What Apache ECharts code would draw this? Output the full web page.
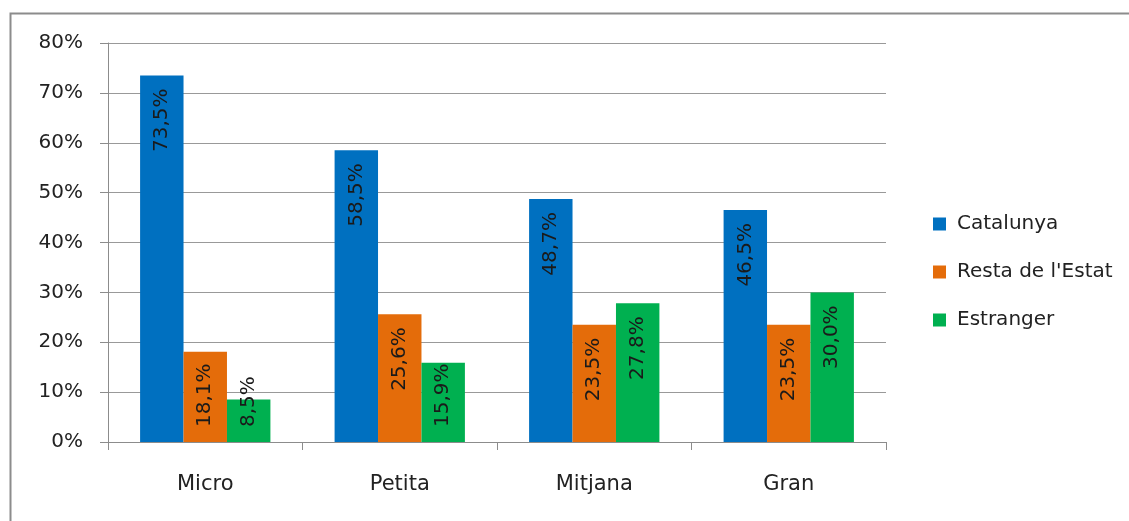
<!DOCTYPE html>
<html><head><meta charset="utf-8">
<script src="https://cdn.jsdelivr.net/npm/echarts@6/dist/echarts.min.js"></script>
<style>html,body{margin:0;padding:0;background:#fff}#c{width:1129px;height:521px}</style>
</head><body><div id="c"></div>
<script>
const categories = ['Micro', 'Petita', 'Mitjana', 'Gran'];
const catalunya = [73.5, 58.5, 48.7, 46.5];
const restaEstat = [18.1, 25.6, 23.5, 23.5];
const estranger = [8.5, 15.9, 27.8, 30.0];
const seriesNames = ['Catalunya', "Resta de l'Estat", 'Estranger'];
const yTicks = [0, 10, 20, 30, 40, 50, 60, 70, 80];

const colors = ['#0070C0', '#E46C0A', '#00B050'];
const font = '"DejaVu Sans", "Open Sans", sans-serif';

function fmt(v) { return v.toFixed(1).replace('.', ',') + '%'; }

function mkData(arr) {
  return arr.map(v => {
    const d = { value: v };
    if (v < 20) {
      d.label = { position: 'insideBottom', align: 'left', distance: 15 };
    }
    return d;
  });
}

const chart = echarts.init(document.getElementById('c'));
chart.setOption({
  backgroundColor: '#ffffff',
  animation: false,
  color: colors,
  graphic: [{
    type: 'rect', left: 8, top: 11,
    shape: { width: 1140, height: 530 },
    style: { fill: 'none', stroke: '#8c8c8c', lineWidth: 2 }
  }],
  grid: { left: 108, right: 243, top: 43, bottom: 79, containLabel: false },
  legend: {
    orient: 'vertical', left: 928, top: 209, itemGap: 28,
    itemWidth: 13, itemHeight: 13, icon: 'rect',
    data: seriesNames,
    textStyle: { fontFamily: font, fontSize: 20, color: '#222', padding: [0, 0, 0, 6] }
  },
  xAxis: {
    type: 'category', data: categories,
    axisLine: { lineStyle: { color: '#8c8c8c', width: 1 } },
    axisTick: { show: true, length: 8, lineStyle: { color: '#8c8c8c' } },
    axisLabel: { fontFamily: font, fontSize: 21, color: '#222', margin: 32 }
  },
  yAxis: {
    type: 'value', min: 0, max: 80, interval: 10,
    axisLine: { show: true, lineStyle: { color: '#8c8c8c' } },
    axisTick: { show: true, length: 8, lineStyle: { color: '#8c8c8c' } },
    splitLine: { lineStyle: { color: '#999999', width: 1.2 } },
    axisLabel: {
      fontFamily: font, fontSize: 20, color: '#222', margin: 25,
      formatter: v => yTicks.includes(v) ? v + '%' : ''
    }
  },
  series: [catalunya, restaEstat, estranger].map((arr, i) => ({
    name: seriesNames[i], type: 'bar', data: mkData(arr),
    barGap: '0%', barCategoryGap: '33%',
    label: {
      show: true, rotate: 90, position: 'insideTop', distance: 13,
      align: 'right', verticalAlign: 'middle',
      fontFamily: font, fontSize: 20, color: '#1a1a1a',
      formatter: p => fmt(p.value)
    }
  }))
});
</script></body></html>
